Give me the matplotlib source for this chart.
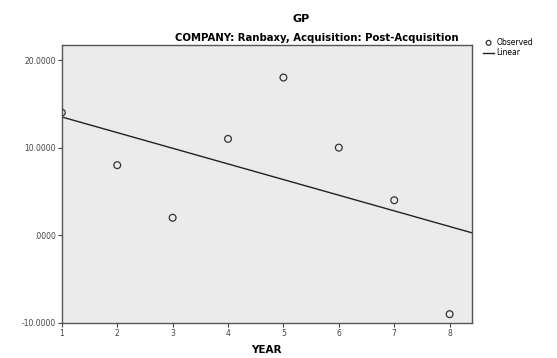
import numpy as np
import matplotlib
matplotlib.use("Agg")
import matplotlib.pyplot as plt
from matplotlib.ticker import FuncFormatter

# GP by year, Ranbaxy post-acquisition
years = [1, 2, 3, 4, 5, 6, 7, 8]
gp = [14, 8, 2, 11, 18, 10, 4, -9]
y_ticks = [-10, 0, 10, 20]

fig = plt.figure(figsize=(5.57, 3.58), dpi=100)
ax = fig.add_axes([0.111, 0.098, 0.736, 0.776])
ax.set_facecolor("#ebebeb")

ax.scatter(years, gp, s=24, facecolors="none", edgecolors="#333333",
           linewidths=0.9, label="Observed", zorder=3)

# least-squares line across the whole x range
slope, intercept = np.polyfit(years, gp, 1)
xs = np.array([1, 8.4])
ax.plot(xs, slope * xs + intercept, color="#222222", lw=1.0, label="Linear", zorder=2)

ax.set_xlim(1, 8.4)
ax.set_ylim(-10, 21.7)
ax.set_xticks(years)
ax.set_yticks(y_ticks)


def fmt(v, pos):
    s = "%.4f" % v
    if s.startswith("0."):
        s = s[1:]
    return s


ax.yaxis.set_major_formatter(FuncFormatter(fmt))
ax.tick_params(labelsize=5.5, length=3, width=0.8, colors="#444444", pad=1.5)
for sp in ax.spines.values():
    sp.set_color("#555555")
    sp.set_linewidth(1.0)

ax.set_xlabel("YEAR", fontsize=7.5, fontweight="bold", labelpad=5)
fig.text(0.54, 0.948, "GP", ha="center", va="center", fontsize=8, fontweight="bold")
fig.text(0.568, 0.893, "COMPANY: Ranbaxy, Acquisition: Post-Acquisition",
         ha="center", va="center", fontsize=7.3, fontweight="bold")

fig.legend(loc="upper left", bbox_to_anchor=(0.86, 0.905), frameon=False,
           fontsize=5.5, handlelength=1.5, handletextpad=0.3, borderpad=0,
           labelspacing=0.2, markerscale=0.7)

fig.savefig("out.png", dpi=100)
